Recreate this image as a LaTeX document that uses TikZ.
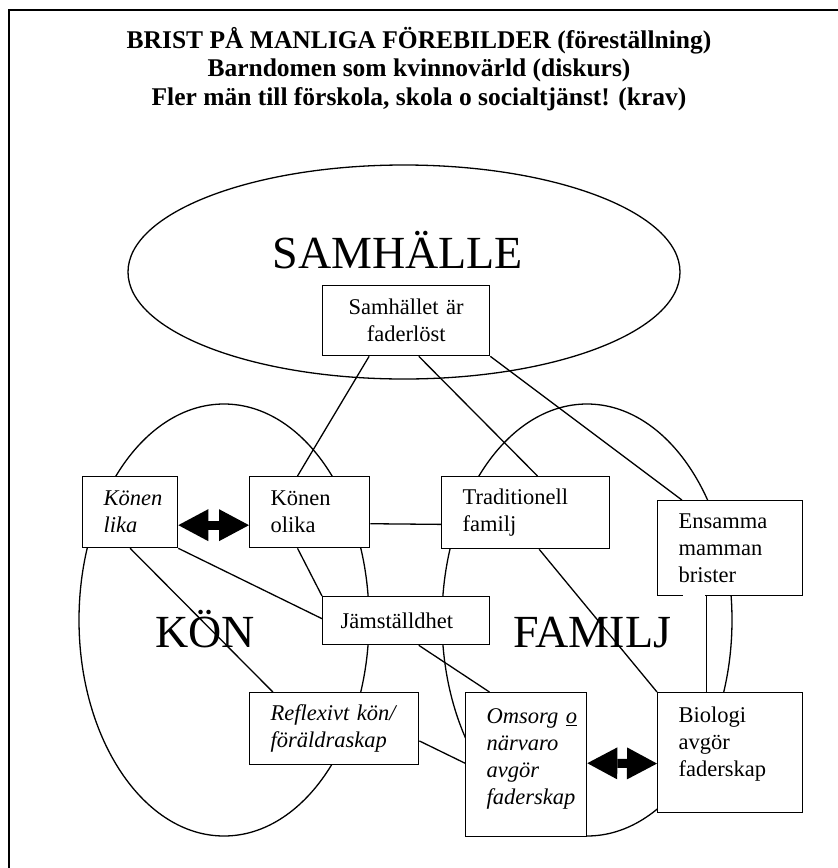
\documentclass[tikz,border=0pt]{standalone}
\usepackage{fontspec}
\setmainfont{Liberation Serif}
\usetikzlibrary{calc,arrows.meta}

\newcommand{\lowgap}[1]{\rule[-#1]{0pt}{#1}}
\hyphenpenalty=10000
\exhyphenpenalty=10000

\tikzset{
    box/.style={draw, fill=white, line width=1.3pt, anchor=north west,
        inner xsep=21pt, inner ysep=0pt, align=left,
        font=\fontsize{22.5pt}{27pt}\selectfont},
    link/.style={line width=1.3pt},
    twoway/.style={line width=9pt,
        {Triangle[length=30pt,width=32pt,line width=0pt]}-{Triangle[length=30pt,width=32pt,line width=0pt]}},
    area/.style={line width=1.3pt},
    areaname/.style={anchor=base west, font=\fontsize{46pt}{50pt}\selectfont},
}

\begin{document}
\begin{tikzpicture}[x=1pt, y=-1pt]
    \useasboundingbox (0,0) rectangle (838,868);
    \draw[line width=2pt] (9,868) -- (9,10) -- (838,10);

    \node[align=center, anchor=base, font=\bfseries\fontsize{25.5pt}{28.5pt}\selectfont] (title) at (419,105)
        {BRIST PÅ MANLIGA FÖREBILDER (föreställning)\\
         Barndomen som kvinnovärld (diskurs)\\
         Fler män till förskola, skola o socialtjänst! (krav)};

    % the three areas
    \draw[area] (404,272) ellipse (276 and 107);
    \draw[area] (224,620) ellipse (145 and 216);
    \draw[area] (587,620) ellipse (145 and 216);
    \node[areaname] (samhalle) at (269,268) {SAMHÄLLE};
    \node[areaname] (kon) at (152,647) {KÖN};
    \node[areaname] (familj) at (510,647) {FAMILJ};

    % boxes
    \node[box, align=center, text width=125pt, minimum height=70pt] (samh) at (322,285) {Samhället är\\faderlöst};
    \node[box, text width=53pt, minimum height=71pt] (lika) at (82,476) {\textit{Könen}\\\textit{lika}};
    \node[box, text width=78pt, minimum height=71pt] (olika) at (249,476) {Könen\\olika};
    \node[box, text width=126pt, minimum height=72pt] (trad) at (441,476) {Traditionell\\familj};
    \node[box, text width=103pt, minimum height=95pt] (ens) at (657,500) {Ensamma\\mamman\\brister};
    \node[box, inner xsep=18pt, text width=131pt, minimum height=48pt] (jam) at (322,596) {Jämställdhet};
    \node[box, text width=127pt, minimum height=72pt] (refl) at (249,692) {\textit{Reflexivt kön/}\\\textit{föräldraskap}};
    \node[box, text width=79pt, minimum height=144pt] (oms) at (465,692)
        {\mbox{\textit{Omsorg \underline{o}}}\\\textit{närvaro}\\\textit{avgör}\\\textit{faderskap}\lowgap{17pt}};
    \node[box, text width=103pt, minimum height=120pt] (bio) at (657,692) {Biologi\\avgör\\faderskap\lowgap{21pt}};
    \draw[white, line width=3pt] ($(ens.south west)+(26,0)$) -- ($(ens.south west)+(48,0)$);

    % links
    \draw[link] ($(samh.south west)!0.28!(samh.south east)$) -- ($(olika.north west)!0.4!(olika.north east)$);
    \draw[link] ($(samh.south west)!0.575!(samh.south east)$) -- ($(trad.north west)!0.57!(trad.north east)$);
    \draw[link] (samh.south east) -- ($(ens.north west)!0.17!(ens.north east)$);
    \draw[link] ($(olika.north east)!0.66!(olika.south east)$) -- ($(trad.north west)!0.66!(trad.south west)$);
    \draw[link] (lika.south east) -- ($(jam.north west)!0.46!(jam.south west)$);
    \draw[link] (lika.south) -- ($(refl.north west)!0.14!(refl.north east)$);
    \draw[link] ($(olika.south west)!0.4!(olika.south east)$) -- (jam.north west);
    \draw[link] ($(jam.south west)!0.575!(jam.south east)$) -- ($(oms.north west)!0.2!(oms.north east)$);
    \draw[link] ($(refl.north east)!0.667!(refl.south east)$) -- ($(oms.north west)!0.49!(oms.south west)$);
    \draw[link] ($(trad.south west)!0.58!(trad.south east)$) -- (bio.north west);
    \draw[link] ($(ens.south west)!0.34!(ens.south east)$) -- ($(bio.north west)!0.34!(bio.north east)$);

    \draw[twoway] ($(lika.north east)!0.68!(lika.south east)$) -- ($(olika.north west)!0.68!(olika.south west)$);
    \draw[twoway] ($(oms.north east)!0.49!(oms.south east)$) -- ($(bio.north west)!0.59!(bio.south west)$);
\end{tikzpicture}
\end{document}
